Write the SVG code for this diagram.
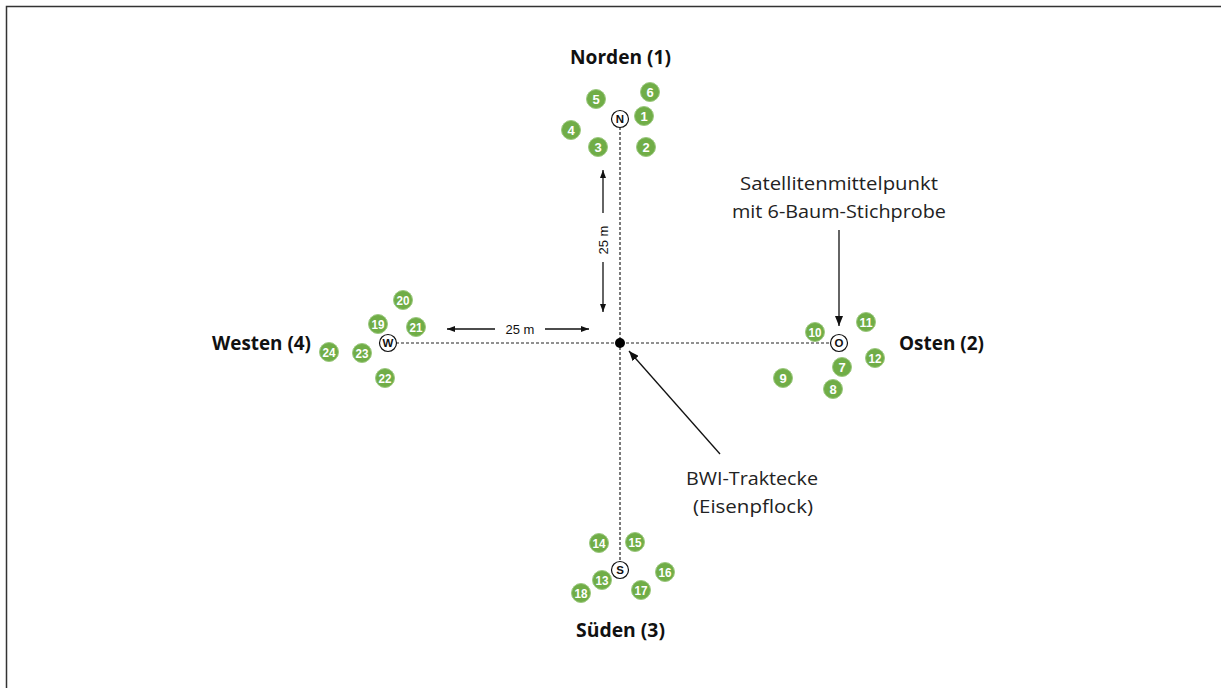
<svg xmlns="http://www.w3.org/2000/svg" width="1221" height="688" viewBox="0 0 1221 688">
<style>
.tree circle{fill:#70AD47;stroke:#9cc97f;stroke-width:1}
.tree text{fill:#fff;font-family:"Liberation Sans",Arial,sans-serif;font-weight:bold;font-size:13px;text-anchor:middle;dominant-baseline:central}
.mk circle{fill:#fff;stroke:#111;stroke-width:1.2}
.mk text{fill:#111;font-family:"Liberation Sans",Arial,sans-serif;font-weight:bold;font-size:11.5px;text-anchor:middle;dominant-baseline:central}
.title{font-family:"Open Sans","Noto Sans",sans-serif;font-weight:bold;font-size:19px;fill:#111}
.lbl{font-family:"Open Sans","Noto Sans",sans-serif;font-size:19px;fill:#222;text-anchor:middle}
.dim{font-family:"Liberation Sans",Arial,sans-serif;font-size:13px;fill:#111}
.dash{stroke:#222;stroke-width:1.2;stroke-dasharray:3 2;fill:none}
.arr{stroke:#111;stroke-width:1.3;fill:none}
</style>
<defs>
<marker id="ah" viewBox="0 0 10 8" refX="10" refY="4" markerWidth="10" markerHeight="8" markerUnits="userSpaceOnUse" orient="auto">
<path d="M0,0 L10,4 L0,8 Z" fill="#111"/>
</marker>
<marker id="ahs" viewBox="0 0 8 6" refX="8" refY="3" markerWidth="8" markerHeight="6" markerUnits="userSpaceOnUse" orient="auto">
<path d="M0,0 L8,3 L0,6 Z" fill="#111"/>
</marker>
</defs>
<rect x="6.5" y="6.5" width="1230" height="700" fill="none" stroke="#333" stroke-width="1.5"/>

<g id="connectors">
<line class="dash" x1="620" y1="127" x2="620" y2="561"/>
<line class="dash" x1="396" y1="343" x2="830" y2="343"/>
<line class="arr" x1="603" y1="213" x2="603" y2="170" marker-end="url(#ahs)"/>
<line class="arr" x1="603" y1="262" x2="603" y2="312" marker-end="url(#ahs)"/>
<line class="arr" x1="495" y1="329" x2="447" y2="329" marker-end="url(#ahs)"/>
<line class="arr" x1="545" y1="329" x2="589" y2="329" marker-end="url(#ahs)"/>
<line class="arr" x1="839" y1="230" x2="839" y2="326" marker-end="url(#ah)"/>
<line class="arr" x1="720" y1="454" x2="629" y2="351" marker-end="url(#ah)"/>
</g>

<text class="dim" transform="translate(608,240) rotate(-90)" text-anchor="middle">25 m</text>
<text class="dim" x="520" y="334" text-anchor="middle">25 m</text>

<g id="center"><circle cx="620" cy="343" r="5" fill="#000"/></g>

<g id="marker-N" class="mk"><circle cx="620" cy="119" r="8.5"/><text x="620" y="119">N</text></g>
<g id="marker-S" class="mk"><circle cx="620" cy="570" r="8.5"/><text x="620" y="570">S</text></g>
<g id="marker-W" class="mk"><circle cx="388" cy="343" r="8.5"/><text x="388" y="343">W</text></g>
<g id="marker-O" class="mk"><circle cx="839" cy="343" r="8.5"/><text x="839" y="343">O</text></g>

<g id="trees-north" class="tree">
<circle cx="644" cy="116" r="9.5"/><text x="644" y="116">1</text>
<circle cx="646" cy="147" r="9.5"/><text x="646" y="147">2</text>
<circle cx="598" cy="147" r="9.5"/><text x="598" y="147">3</text>
<circle cx="571" cy="130" r="9.5"/><text x="571" y="130">4</text>
<circle cx="596" cy="99" r="9.5"/><text x="596" y="99">5</text>
<circle cx="650" cy="92" r="9.5"/><text x="650" y="92">6</text>
</g>
<g id="trees-east" class="tree">
<circle cx="842" cy="367" r="9.5"/><text x="842" y="367">7</text>
<circle cx="833" cy="389" r="9.5"/><text x="833" y="389">8</text>
<circle cx="783" cy="378" r="9.5"/><text x="783" y="378">9</text>
<circle cx="815" cy="332" r="9.5"/><text x="815" y="332" textLength="13" lengthAdjust="spacingAndGlyphs">10</text>
<circle cx="866" cy="322" r="9.5"/><text x="866" y="322" textLength="13" lengthAdjust="spacingAndGlyphs">11</text>
<circle cx="875" cy="358" r="9.5"/><text x="875" y="358" textLength="13" lengthAdjust="spacingAndGlyphs">12</text>
</g>
<g id="trees-south" class="tree">
<circle cx="602" cy="580" r="9.5"/><text x="602" y="580" textLength="13" lengthAdjust="spacingAndGlyphs">13</text>
<circle cx="599" cy="543" r="9.5"/><text x="599" y="543" textLength="13" lengthAdjust="spacingAndGlyphs">14</text>
<circle cx="635" cy="542" r="9.5"/><text x="635" y="542" textLength="13" lengthAdjust="spacingAndGlyphs">15</text>
<circle cx="665" cy="572" r="9.5"/><text x="665" y="572" textLength="13" lengthAdjust="spacingAndGlyphs">16</text>
<circle cx="641" cy="590" r="9.5"/><text x="641" y="590" textLength="13" lengthAdjust="spacingAndGlyphs">17</text>
<circle cx="581" cy="593" r="9.5"/><text x="581" y="593" textLength="13" lengthAdjust="spacingAndGlyphs">18</text>
</g>
<g id="trees-west" class="tree">
<circle cx="378" cy="324" r="9.5"/><text x="378" y="324" textLength="13" lengthAdjust="spacingAndGlyphs">19</text>
<circle cx="403" cy="300" r="9.5"/><text x="403" y="300" textLength="13" lengthAdjust="spacingAndGlyphs">20</text>
<circle cx="416" cy="327" r="9.5"/><text x="416" y="327" textLength="13" lengthAdjust="spacingAndGlyphs">21</text>
<circle cx="385" cy="378" r="9.5"/><text x="385" y="378" textLength="13" lengthAdjust="spacingAndGlyphs">22</text>
<circle cx="362" cy="353" r="9.5"/><text x="362" y="353" textLength="13" lengthAdjust="spacingAndGlyphs">23</text>
<circle cx="329" cy="352" r="9.5"/><text x="329" y="352" textLength="13" lengthAdjust="spacingAndGlyphs">24</text>
</g>

<g id="label-north"><text class="title" x="570" y="64" textLength="101" lengthAdjust="spacingAndGlyphs">Norden (1)</text></g>
<g id="label-south"><text class="title" x="576" y="637" textLength="89" lengthAdjust="spacingAndGlyphs">Süden (3)</text></g>
<g id="label-west"><text class="title" x="212" y="350" textLength="99" lengthAdjust="spacingAndGlyphs">Westen (4)</text></g>
<g id="label-east"><text class="title" x="899" y="350" textLength="85" lengthAdjust="spacingAndGlyphs">Osten (2)</text></g>

<g id="label-satellite">
<text class="lbl" x="839" y="190" textLength="198" lengthAdjust="spacingAndGlyphs">Satellitenmittelpunkt</text>
<text class="lbl" x="839" y="218" textLength="214" lengthAdjust="spacingAndGlyphs">mit 6-Baum-Stichprobe</text>
</g>
<g id="label-bwi">
<text class="lbl" x="752" y="485" textLength="132" lengthAdjust="spacingAndGlyphs">BWI-Traktecke</text>
<text class="lbl" x="753" y="513" textLength="120" lengthAdjust="spacingAndGlyphs">(Eisenpflock)</text>
</g>
</svg>
